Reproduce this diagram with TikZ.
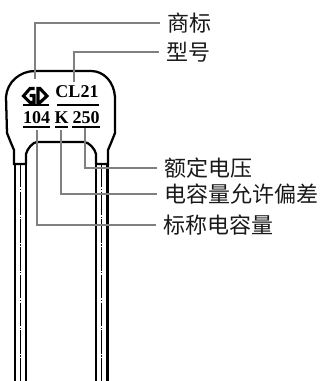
\documentclass[tikz,border=0pt]{standalone}
\usepackage{fontspec}
\newfontfamily\cjk{Noto Sans CJK SC}
\newfontfamily\printfont{Liberation Serif}
\usetikzlibrary{positioning}
\tikzset{
    leader/.style={draw=black!50, line width=1pt},
    wire/.style={line width=2.2pt},
    wirecore/.style={line width=1pt, dash pattern=on 17.5pt off 1.2pt on 0.9pt off 1.2pt},
    outline/.style={line width=1.7pt, line join=round},
    logostroke/.style={line width=2.3pt, line join=miter},
    calllabel/.style={font=\cjk\fontsize{16.5}{16.5}\selectfont, anchor=west, inner sep=0pt, text=black!90},
    printmark/.style={font=\printfont\bfseries\fontsize{13.5}{13.5}\selectfont, inner sep=0pt}
}
\begin{document}
\begin{tikzpicture}[x=0.75pt, y=-0.75pt]
    \useasboundingbox (0,0) rectangle (320,381);
    % leads
    \draw[wire] (15,164) -- (15,381);
    \draw[wire] (26,164) -- (26,381);
    \draw[wire] (96,164) -- (96,381);
    \draw[wire] (107.5,164) -- (107.5,381);
    \draw[wirecore] (20.5,164) -- (20.5,381);
    \draw[wirecore] (101.5,164) -- (101.5,381);
    % body
    \draw[outline] (14,165) -- (14,150) -- (11,143) -- (7,133) -- (6,97)
        .. controls (7,82) and (20,71) .. (35,71) -- (91,71)
        .. controls (104,71) and (114,82) .. (115,97) -- (115,133)
        -- (111,143) -- (108,150) -- (108,165);
    \draw[outline] (14,164) -- (26,164) -- (26,154)
        .. controls (27,149) and (33,142) .. (37,142) -- (84,142)
        .. controls (89,142) and (95,149) .. (96,154) -- (96,164) -- (108,164);
    % logo
    \draw[logostroke] (34.5,88.5) -- (30,88.5) -- (23.5,96) -- (30,102.5) -- (34,102.5) -- (34,95.5) -- (29.5,95.5);
    \draw[logostroke] (38,88.5) -- (40,88.5) -- (47,96) -- (40,102.5) -- (38,102.5) -- cycle;
    % marks
    \node[printmark] (type) at (77,92) {CL21};
    \node[printmark] (cap) at (36.5,118) {104};
    \node[printmark] (tol) at (61.5,118) {K};
    \node[printmark] (volt) at (86,118) {250};
    \draw[line width=1pt] (23,105) -- (49,105) (57,105) -- (99,105);
    \draw[line width=1pt] (23,127) -- (50,127) (55,127) -- (68,127) (72,127) -- (100,127);
    % labels
    \node[calllabel] (brand) at (167,23) {商标};
    \node[calllabel] (model) at (166,52) {型号};
    \node[calllabel] (rated) at (164,168) {额定电压};
    \node[calllabel] (toler) at (164,194) {电容量允许偏差};
    \node[calllabel] (nominal) at (163,225) {标称电容量};
    \coordinate (brandend) at (35,79);
    \coordinate (modelend) at (74,82);
    \coordinate (ratedend) at (85,128);
    \coordinate (tolerend) at (61,130);
    \coordinate (nominalend) at (37,130);
    \draw[leader] (brandend) |- ([xshift=-5pt]brand.west);
    \draw[leader] (modelend) |- ([xshift=-5pt]model.west);
    \draw[leader] (ratedend) |- ([xshift=-5pt]rated.west);
    \draw[leader] (tolerend) |- ([xshift=-5pt]toler.west);
    \draw[leader] (nominalend) |- ([xshift=-5pt]nominal.west);
\end{tikzpicture}
\end{document}
